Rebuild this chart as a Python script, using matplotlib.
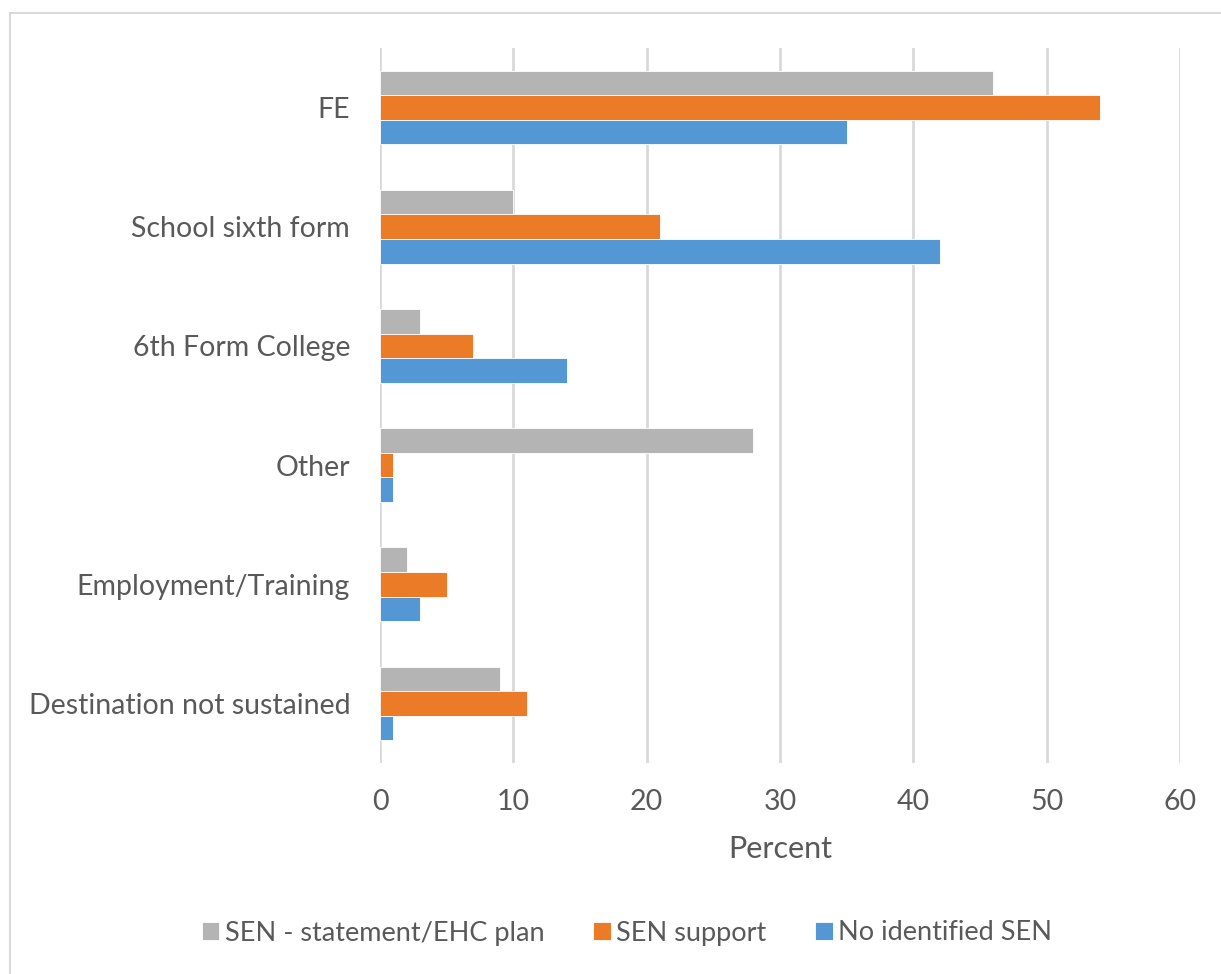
import matplotlib
matplotlib.use('Agg')
import matplotlib.pyplot as plt
from matplotlib.patches import Rectangle
import numpy as np

plt.rcParams['font.family'] = ['Lato', 'DejaVu Sans']

categories = ['FE', 'School sixth form', '6th Form College', 'Other',
              'Employment/Training', 'Destination not sustained']
sen_statement = [46, 10, 3, 28, 2, 9]
sen_support = [54, 21, 7, 1, 5, 11]
no_sen = [35, 42, 14, 1, 3, 1]
series_names = ['SEN - statement/EHC plan', 'SEN support', 'No identified SEN']
colors = ['#B4B4B4', '#EB7B27', '#5398D4']
text_col = '#595959'

fig = plt.figure(figsize=(12.21, 9.74), dpi=100)
ax = fig.add_axes([380 / 1221, 1 - 763 / 974, 800 / 1221, 715 / 974])

# light grey frame round the chart
fig.patches.append(Rectangle((10 / 1221, -0.1), 1.2, 1 - 13 / 974 + 0.1,
                             transform=fig.transFigure, fill=False,
                             edgecolor='#D9D9D9', linewidth=1.5))

y = np.arange(len(categories))
h = 0.206
handles = []
for i, (vals, name, c) in enumerate(zip([sen_statement, sen_support, no_sen], series_names, colors)):
    b = ax.barh(y + (i - 1) * h, vals, height=h, color=c, edgecolor='white',
                linewidth=0.6, label=name, zorder=3)
    handles.append(b)

ax.set_ylim(len(categories) - 0.5, -0.5)
ax.set_xlim(0, 60)
ax.set_xticks(range(0, 61, 10))
ax.set_yticks(y)
ax.set_yticklabels(categories)
ax.grid(axis='x', color='#D9D9D9', linewidth=2, zorder=0)
for s in ax.spines.values():
    s.set_visible(False)
ax.tick_params(axis='both', length=0, labelsize=20.5, colors=text_col)
ax.tick_params(axis='x', pad=19)
ax.tick_params(axis='y', pad=21.5)
ax.set_xlabel('Percent', fontsize=22, color=text_col, labelpad=14)

fig.legend(handles=handles, labels=series_names, loc='center',
           bbox_to_anchor=(627 / 1221, 1 - 933 / 974), ncol=3, frameon=False,
           fontsize=19.5, labelcolor=text_col, handlelength=0.65, handleheight=0.65,
           handletextpad=0.2, columnspacing=1.8)

plt.savefig('out.png', dpi=100)
